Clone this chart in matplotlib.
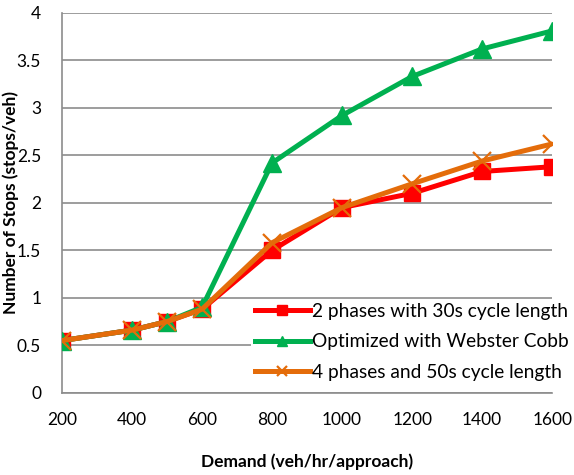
import matplotlib.pyplot as plt

demand = [200, 400, 500, 600, 800, 1000, 1200, 1400, 1600]
stops_2ph = [0.55, 0.66, 0.75, 0.88, 1.50, 1.95, 2.10, 2.33, 2.38]
stops_webster = [0.55, 0.66, 0.75, 0.90, 2.42, 2.92, 3.33, 3.62, 3.81]
stops_4ph = [0.55, 0.66, 0.75, 0.88, 1.58, 1.95, 2.20, 2.44, 2.62]

labels = ['2 phases with 30s cycle length',
          'Optimized with Webster Cobb',
          '4 phases and 50s cycle length']

plt.rcParams['font.family'] = ['Lato', 'DejaVu Sans']

fig = plt.figure(figsize=(5.74, 4.75), dpi=100)
ax = fig.add_axes([0.108, 0.173, 0.854, 0.80])

ax.plot(demand, stops_2ph, color='#ff0000', lw=3.6, marker='s', ms=12,
        label=labels[0], zorder=3)
ax.plot(demand, stops_webster, color='#00b050', lw=3.6, marker='^', ms=13,
        label=labels[1], zorder=4)
ax.plot(demand, stops_4ph, color='#e46c0a', lw=3.6, marker='x', ms=13,
        mew=1.6, label=labels[2], zorder=5)

ax.set_xlim(200, 1600)
ax.set_ylim(0, 4)
ax.set_xticks(range(200, 1601, 200))
ax.set_yticks([0, 0.5, 1, 1.5, 2, 2.5, 3, 3.5, 4])
ax.set_yticklabels(['0', '0.5', '1', '1.5', '2', '2.5', '3', '3.5', '4'])
ax.grid(axis='y', color='#8c8c8c', lw=1.2)
ax.set_axisbelow(True)
for s in ['top', 'right']:
    ax.spines[s].set_visible(False)
for s in ['left', 'bottom']:
    ax.spines[s].set_color('#8c8c8c')
    ax.spines[s].set_linewidth(1.2)
ax.tick_params(length=0, labelsize=12.5)
ax.tick_params(axis='x', pad=14)
ax.tick_params(axis='y', pad=15)

ax.set_xlabel('Demand (veh/hr/approach)', fontsize=12.5, fontweight='bold', labelpad=18)
ax.set_ylabel('Number of Stops (stops/veh)', fontsize=12.5, fontweight='bold')
ax.yaxis.set_label_coords(-0.088, 0.5)

leg = ax.legend(loc='lower left', bbox_to_anchor=(0.385, 0.022), frameon=True,
                fontsize=13.8, handlelength=2.9, handletextpad=0.1,
                labelspacing=0.7, borderaxespad=0, borderpad=0.2,
                markerscale=0.55)
leg.get_frame().set_edgecolor('none')
leg.get_frame().set_facecolor('white')
leg.get_frame().set_alpha(1)

fig.savefig('out.png', dpi=100)
